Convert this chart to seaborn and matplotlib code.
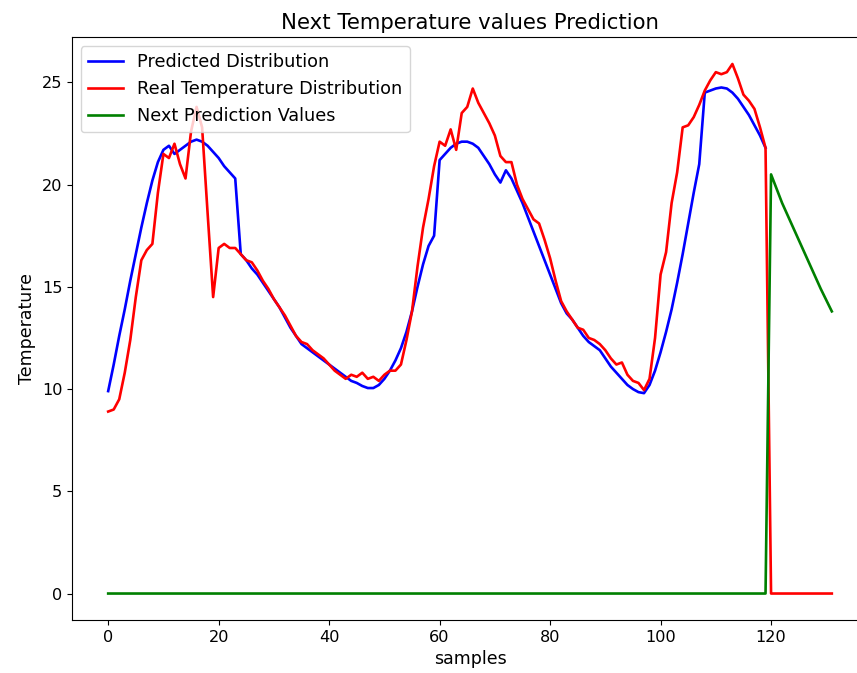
import matplotlib
matplotlib.use("Agg")
import matplotlib.pyplot as plt
import seaborn as sns

# ---- data ----
predicted = [
    9.9, 11.2, 12.6, 13.9, 15.3, 16.6, 17.9, 19.1, 20.2, 21.1,
    21.7, 21.9, 21.5, 21.7, 21.9, 22.1, 22.2, 22.1, 21.9, 21.6,
    21.3, 20.9, 20.6, 20.3, 16.6, 16.3, 15.9, 15.6, 15.2, 14.8,
    14.4, 14.0, 13.5, 13.0, 12.6, 12.2, 12.0, 11.8, 11.6, 11.4,
    11.2, 11.0, 10.8, 10.6, 10.4, 10.3, 10.15, 10.05, 10.05, 10.2,
    10.5, 10.9, 11.4, 12.0, 12.8, 13.8, 15.0, 16.1, 17.0, 17.5,
    21.2, 21.5, 21.8, 22.0, 22.1, 22.1, 22.0, 21.8, 21.4, 21.0,
    20.5, 20.1, 20.7, 20.3, 19.7, 19.1, 18.4, 17.7, 17.0, 16.3,
    15.6, 14.9, 14.2, 13.7, 13.4, 13.0, 12.6, 12.3, 12.1, 11.9,
    11.5, 11.1, 10.8, 10.5, 10.2, 10.0, 9.85, 9.8, 10.2, 10.9,
    11.8, 12.8, 13.9, 15.2, 16.6, 18.1, 19.6, 21.0, 24.5, 24.6,
    24.7, 24.75, 24.7, 24.5, 24.2, 23.8, 23.4, 22.9, 22.4, 21.8,
]

real = [
    8.9, 9.0, 9.5, 10.8, 12.4, 14.5, 16.3, 16.8, 17.1, 19.6,
    21.5, 21.3, 22.0, 21.0, 20.3, 22.6, 23.8, 22.8, 18.6, 14.5,
    16.9, 17.1, 16.9, 16.9, 16.6, 16.3, 16.2, 15.8, 15.3, 14.9,
    14.4, 14.0, 13.6, 13.1, 12.6, 12.3, 12.2, 11.9, 11.7, 11.5,
    11.2, 10.9, 10.7, 10.5, 10.7, 10.6, 10.8, 10.5, 10.6, 10.4,
    10.7, 10.9, 10.9, 11.2, 12.4, 13.8, 16.0, 17.9, 19.3, 20.9,
    22.1, 21.9, 22.7, 21.7, 23.5, 23.8, 24.7, 24.0, 23.5, 23.0,
    22.4, 21.4, 21.1, 21.1, 20.0, 19.3, 18.8, 18.3, 18.1, 17.3,
    16.4, 15.3, 14.3, 13.8, 13.4, 13.0, 12.9, 12.5, 12.4, 12.2,
    11.9, 11.5, 11.2, 11.3, 10.7, 10.4, 10.3, 9.95, 10.5, 12.5,
    15.6, 16.7, 19.1, 20.6, 22.8, 22.9, 23.3, 23.9, 24.6, 25.1,
    25.5, 25.4, 25.5, 25.9, 25.2, 24.4, 24.1, 23.7, 22.8, 21.8,
    0, 0, 0, 0, 0, 0, 0, 0, 0, 0, 0, 0,
]

next_pred_tail = [20.5, 19.8, 19.1, 18.5, 17.9, 17.3, 16.7, 16.1, 15.5, 14.9, 14.35, 13.8]
next_pred = [0.0] * 120 + next_pred_tail

x_pred = list(range(len(predicted)))
x_real = list(range(len(real)))
x_next = list(range(len(next_pred)))

plt.rcParams['font.family'] = ['DejaVu Sans']
plt.rcParams['font.size'] = 12.5

fig = plt.figure(figsize=(8.57, 6.73), dpi=100)
ax = fig.add_axes([72 / 857, 1 - 620 / 673, 796 / 857, (620 - 37.5) / 673])

sns.lineplot(x=x_pred, y=predicted, ax=ax, color="blue", lw=1.9, label="Predicted Distribution")
sns.lineplot(x=x_real, y=real, ax=ax, color="red", lw=1.9, label="Real Temperature Distribution")
sns.lineplot(x=x_next, y=next_pred, ax=ax, color="green", lw=1.9, label="Next Prediction Values")

ax.set_title("Next Temperature values Prediction", fontsize=15.3)
ax.set_xlabel("samples", fontsize=12.5)
ax.set_ylabel("Temperature", fontsize=12.5)
ax.tick_params(labelsize=11.6)
ax.set_xticks([0, 20, 40, 60, 80, 100, 120])
ax.set_yticks([0, 5, 10, 15, 20, 25])
ax.legend(loc="upper left", fontsize=12.7)

fig.savefig("out.png", dpi=100)
